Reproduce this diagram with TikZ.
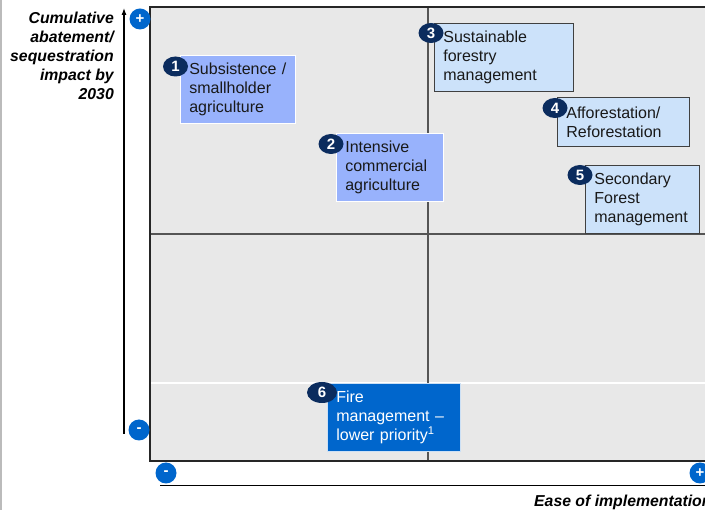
\documentclass[tikz,border=0pt]{standalone}
\usepackage{fontspec}
\setmainfont{Liberation Sans}
\usetikzlibrary{shapes.geometric,arrows.meta}
\definecolor{plotbg}{HTML}{E8E8E8}
\definecolor{periw}{HTML}{98B2FC}
\definecolor{paleblue}{HTML}{CCE2FA}
\definecolor{strongblue}{HTML}{0066CC}
\definecolor{navy}{HTML}{0B2C5E}
\definecolor{divgray}{HTML}{555555}
\definecolor{edgegray}{HTML}{BBBBBB}
\begin{document}
\begin{tikzpicture}[x=1pt,y=-1pt,
  boxbase/.style={rectangle, anchor=north west, inner xsep=9pt, inner ysep=0pt,
    align=left, font=\fontsize{16}{19}\selectfont, text=black!90},
  darkbox/.style={boxbase, fill=periw, draw=white, line width=0.6pt},
  lightbox/.style={boxbase, fill=paleblue, draw=black!75, line width=0.8pt},
  firebox/.style={boxbase, fill=strongblue, draw=white!80!strongblue, line width=0.6pt, text=white},
  badge/.style={ellipse, fill=navy, text=white, inner sep=0pt,
    minimum width=25pt, minimum height=20pt, font=\bfseries\fontsize{15}{15}\selectfont},
  pm/.style={circle, fill=strongblue, text=white, inner sep=0pt, minimum size=21pt,
    font=\bfseries\fontsize{15}{15}\selectfont},
  axlabel/.style={font=\bfseries\itshape\fontsize{15.8}{19}\selectfont, inner sep=0pt}
]
\useasboundingbox (0,0) rectangle (705,510);
% left edge line
\draw[edgegray, line width=1.5pt] (1,0) -- (1,510);
% plot area
\fill[plotbg] (150,7) rectangle (712,461);
\draw[white, line width=1.5pt] (150,383) -- (712,383);
\draw[divgray, line width=1.3pt] (428,7) -- (428,461);
\draw[divgray, line width=1.3pt] (150,234) -- (712,234);
\draw[black!85, line width=1.2pt] (712,7) -- (150,7) -- (150,461) -- (712,461);

% vertical axis
\coordinate (vbot) at (124,434);
\coordinate (vtop) at (124,8);
\draw[line width=1.1pt, -{Latex[length=7pt,width=5pt]}] (vbot) -- (vtop);
\node[pm] (vplus) at (140,19) {+};
\node[pm] (vminus) at (139,430) {-};
\node[axlabel, anchor=north east, align=right] (ylab) at (114,12)
  {Cumulative\\abatement/\\sequestration\\impact by\\2030};

% horizontal axis
\coordinate (hstart) at (160,485.5);
\coordinate (hend) at (712,485.5);
\draw[line width=1.2pt] (hstart) -- (hend);
\node[pm] (hminus) at (166,473) {-};
\node[pm] (hplus) at (700,473) {+};
\node[axlabel, anchor=base west] (xlab) at (534,507) {Ease of implementation};

% boxes
\node[darkbox, minimum width=115pt, text width=97pt, minimum height=68pt] (b1) at (180,55)
  {Subsistence /\\smallholder\\agriculture};
\node[darkbox, minimum width=107pt, text width=89pt, minimum height=68pt] (b2) at (336,133)
  {Intensive\\commercial\\agriculture};
\node[lightbox, minimum width=139pt, text width=121pt, minimum height=68pt] (b3) at (434,23)
  {Sustainable\\forestry\\management};
\node[lightbox, minimum width=132pt, text width=114pt, minimum height=49pt] (b4) at (557,97)
  {Afforestation/\\Reforestation};
\node[lightbox, minimum width=114pt, text width=96pt, minimum height=68pt] (b5) at (585,165)
  {Secondary\\Forest\\management};
\node[firebox, minimum width=133pt, text width=115pt, minimum height=68pt] (b6) at (327,383)
  {Fire\\management –\\lower priority\textsuperscript{1}};

% badges
\node[badge] (n1) at (175.5,66.5) {1};
\node[badge] (n2) at (331,144) {2};
\node[badge] (n3) at (431,33) {3};
\node[badge] (n4) at (555,108) {4};
\node[badge] (n5) at (580,175) {5};
\node[badge, minimum width=30pt, minimum height=21pt] (n6) at (322,392.5) {6};
\end{tikzpicture}
\end{document}
